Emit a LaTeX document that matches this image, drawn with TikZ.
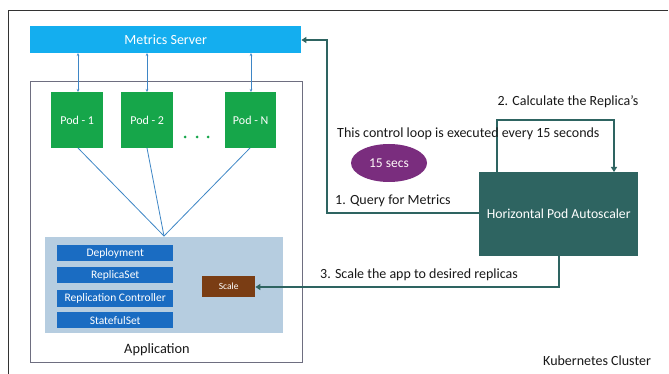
\documentclass[tikz,border=0pt]{standalone}
\usepackage{fontspec}
\setmainfont{Carlito}
\usetikzlibrary{arrows.meta,shapes.geometric}
\definecolor{msblue}{HTML}{14AEEF}
\definecolor{podgreen}{HTML}{16A64A}
\definecolor{applight}{HTML}{B6CDE0}
\definecolor{depblue}{HTML}{1A6CC2}
\definecolor{scalebrown}{HTML}{7A3D14}
\definecolor{hpateal}{HTML}{2E6461}
\definecolor{arrteal}{HTML}{2E6461}
\definecolor{secpurple}{HTML}{7A2D7E}
\definecolor{linkblue}{HTML}{3E86C6}
\definecolor{framegray}{HTML}{6E6E80}
\begin{document}
\begin{tikzpicture}[x=1pt,y=-1pt,
  box/.style={draw=none,inner sep=0pt,anchor=north west},
  podbox/.style={box,fill=podgreen,text=white,font=\fontsize{12}{14}\selectfont},
  depbox/.style={box,fill=depblue,text=white,font=\fontsize{11.5}{13}\selectfont},
  lbl/.style={inner sep=0pt,text=black!90,font=\fontsize{14}{16}\selectfont},
  teal arrow/.style={draw=arrteal,line width=1.6pt,-{Triangle[length=5pt,width=6pt]}},
  blue link/.style={draw=linkblue,line width=0.6pt},
]
\useasboundingbox (0,0) rectangle (669,374);
\fill[white] (0,0) rectangle (669,374);
% cluster frame
\draw[black!80,line width=0.8pt] (668,10) -- (8,10) -- (8,374);
% metrics server
\node[box,fill=msblue,minimum width=271pt,minimum height=27pt,text=white,font=\fontsize{14}{16}\selectfont] (ms) at (30,26) {Metrics Server};
% application box
\node[box,draw=framegray,line width=0.8pt,minimum width=272pt,minimum height=281pt] (app) at (30,81) {};
% pods
\node[podbox,minimum width=52pt,minimum height=56pt] (p1) at (51,92) {Pod - 1};
\node[podbox,minimum width=52pt,minimum height=56pt] (p2) at (121,92) {Pod - 2};
\node[podbox,minimum width=51pt,minimum height=56pt] (pn) at (225,92) {Pod - N};
\foreach \i/\xx in {d1/185,d2/197,d3/208}
  \fill[podgreen] (\xx,137) circle (1.5pt);
% links pods <-> metrics server
\foreach \p/\xx in {p1/78,p2/147,pn/251}{
  \draw[blue link,{Stealth[length=3pt,width=2.5pt]}-{Stealth[length=3pt,width=2.5pt]}] (\xx,53) -- (\xx,92);
}
% light app area
\node[box,fill=applight,minimum width=238pt,minimum height=96pt] (area) at (45,237) {};
\coordinate (conv) at (164,236);
\draw[blue link,line width=0.8pt] (78,148) -- (conv) -- (250,148);
\draw[blue link,line width=0.8pt] (147,148) -- (conv);
% controllers
\node[depbox,minimum width=116pt,minimum height=16pt] (dep) at (57,245) {Deployment};
\node[depbox,minimum width=116pt,minimum height=16pt] (rs) at (57,267) {ReplicaSet};
\node[depbox,minimum width=116pt,minimum height=17pt] (rc) at (57,289.5) {Replication Controller};
\node[depbox,minimum width=116pt,minimum height=16pt] (ss) at (57,312) {StatefulSet};
\node[box,fill=scalebrown,minimum width=53pt,minimum height=21pt,text=white,font=\fontsize{9.5}{11}\selectfont] (scale) at (202,276) {Scale};
\node[lbl,font=\fontsize{14.3}{16}\selectfont] (applbl) at (157,350) {Application};
% HPA
\node[box,fill=hpateal,minimum width=159pt,minimum height=84pt,text=white,font=\fontsize{13.7}{15}\selectfont] (hpa) at (479,172) {Horizontal Pod Autoscaler};
% arrows
\draw[teal arrow] (479,213) -- (327,213) -- (327,40) -- (ms.east |- 0,40);
\draw[teal arrow] (497,172) -- (497,120) -- (614,120) -- (614,172);
\draw[teal arrow] (559,256) -- (559,287) -- (scale.east |- 0,287);
% labels
\node[lbl,anchor=west] (l1) at (335,201) {1. Query for Metrics};
\node[lbl,anchor=center] (l2) at (568,102) {2. Calculate the Replica’s};
\node[lbl,anchor=west] (l3) at (320,275) {3. Scale the app to desired replicas};
\node[lbl,anchor=west] (loop) at (337,134) {This control loop is executed every 15 seconds};
\node[ellipse,fill=secpurple,minimum width=76pt,minimum height=38pt,inner sep=0pt,text=white!90!pink,font=\fontsize{13.5}{15}\selectfont] (secs) at (389,163) {15 secs};
\node[lbl,anchor=west] (k8s) at (543,361) {Kubernetes Cluster};
\end{tikzpicture}
\end{document}
